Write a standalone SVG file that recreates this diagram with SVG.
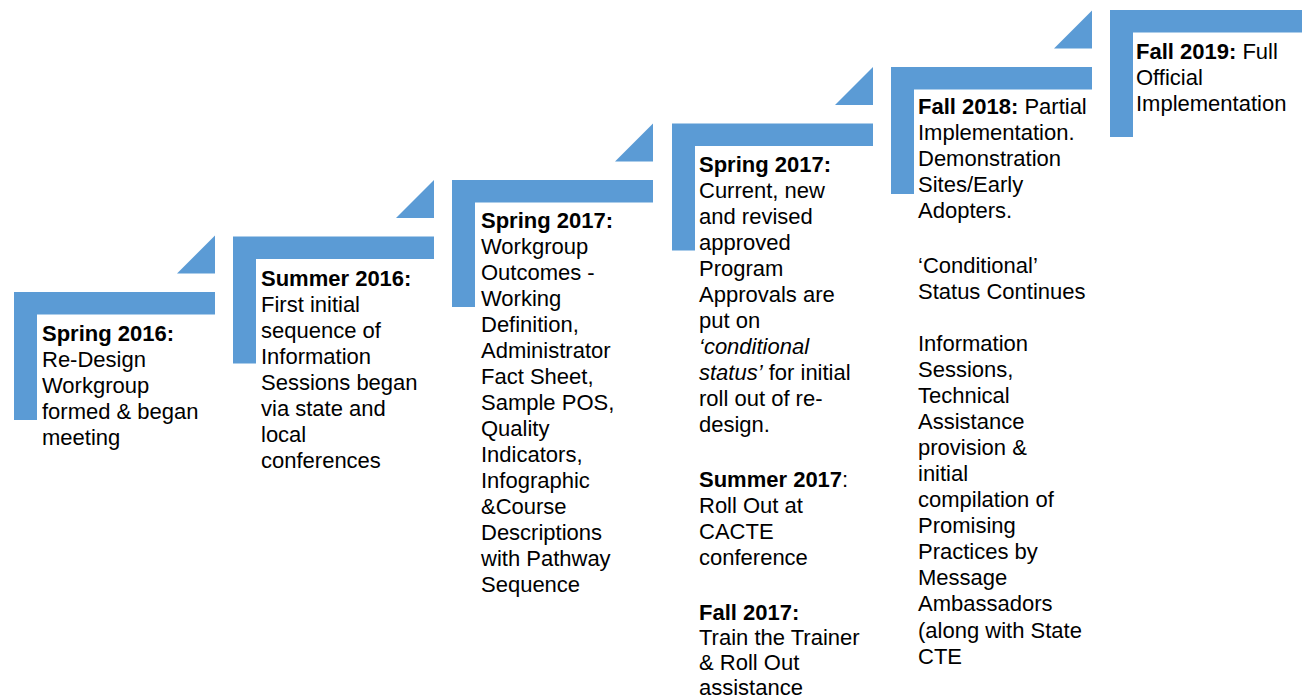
<svg xmlns="http://www.w3.org/2000/svg" width="1302" height="699" viewBox="0 0 1302 699">
<style>
.s{fill:#5B9BD5}
text{font-family:"Liberation Sans",Arial,sans-serif;font-size:22px;fill:#000}
.b{font-weight:bold}
.i{font-style:italic}
</style>
<rect width="1302" height="699" fill="#fff"/>
<g id="connectors">
<polygon class="s" points="215,235.5 215,273.5 177,273.5"/>
<polygon class="s" points="434,180 434,218 396,218"/>
<polygon class="s" points="653,123.5 653,161.5 615,161.5"/>
<polygon class="s" points="873,67 873,105 835,105"/>
<polygon class="s" points="1092,10.5 1092,48.5 1054,48.5"/>
</g>
<g id="step1">
<path class="s" d="M14,292H215V314.5H37V420H14Z"/>
<text><tspan x="42" y="341" class="b">Spring 2016:</tspan><tspan x="42" y="367">Re-Design</tspan><tspan x="42" y="393">Workgroup</tspan><tspan x="42" y="419">formed &amp; began</tspan><tspan x="42" y="445">meeting</tspan></text>
</g>
<g id="step2">
<path class="s" d="M233,236.5H434V259H256V363.5H233Z"/>
<text><tspan x="261" y="286" class="b">Summer 2016:</tspan><tspan x="261" y="312">First initial</tspan><tspan x="261" y="338">sequence of</tspan><tspan x="261" y="364">Information</tspan><tspan x="261" y="390">Sessions began</tspan><tspan x="261" y="416">via state and</tspan><tspan x="261" y="442">local</tspan><tspan x="261" y="468">conferences</tspan></text>
</g>
<g id="step3">
<path class="s" d="M452,180H653V202.5H475V307H452Z"/>
<text><tspan x="481" y="228" class="b">Spring 2017:</tspan><tspan x="481" y="254">Workgroup</tspan><tspan x="481" y="280">Outcomes -</tspan><tspan x="481" y="306">Working</tspan><tspan x="481" y="332">Definition,</tspan><tspan x="481" y="358">Administrator</tspan><tspan x="481" y="384">Fact Sheet,</tspan><tspan x="481" y="410">Sample POS,</tspan><tspan x="481" y="436">Quality</tspan><tspan x="481" y="462">Indicators,</tspan><tspan x="481" y="488">Infographic</tspan><tspan x="481" y="514">&amp;Course</tspan><tspan x="481" y="540">Descriptions</tspan><tspan x="481" y="566">with Pathway</tspan><tspan x="481" y="592">Sequence</tspan></text>
</g>
<g id="step4">
<path class="s" d="M672,123.5H873V146H695V250.5H672Z"/>
<text><tspan x="699" y="172" class="b">Spring 2017:</tspan><tspan x="699" y="198">Current, new</tspan><tspan x="699" y="224">and revised</tspan><tspan x="699" y="250">approved</tspan><tspan x="699" y="276">Program</tspan><tspan x="699" y="302">Approvals are</tspan><tspan x="699" y="328">put on</tspan><tspan x="699" y="354" class="i">‘conditional</tspan><tspan x="699" y="380" class="i">status’</tspan><tspan> for initial</tspan><tspan x="699" y="406">roll out of re-</tspan><tspan x="699" y="432">design.</tspan><tspan x="699" y="487" class="b">Summer 2017</tspan><tspan>:</tspan><tspan x="699" y="513">Roll Out at</tspan><tspan x="699" y="539">CACTE</tspan><tspan x="699" y="565">conference</tspan><tspan x="699" y="620" class="b">Fall 2017:</tspan><tspan x="699" y="645">Train the Trainer</tspan><tspan x="699" y="670">&amp; Roll Out</tspan><tspan x="699" y="695">assistance</tspan></text>
</g>
<g id="step5">
<path class="s" d="M891,67H1092V89.5H914V194H891Z"/>
<text><tspan x="918" y="114" class="b">Fall 2018:</tspan><tspan> Partial</tspan><tspan x="918" y="140">Implementation.</tspan><tspan x="918" y="166">Demonstration</tspan><tspan x="918" y="192">Sites/Early</tspan><tspan x="918" y="218">Adopters.</tspan><tspan x="918" y="273">‘Conditional’</tspan><tspan x="918" y="299">Status Continues</tspan><tspan x="918" y="351">Information</tspan><tspan x="918" y="377">Sessions,</tspan><tspan x="918" y="403">Technical</tspan><tspan x="918" y="429">Assistance</tspan><tspan x="918" y="455">provision &amp;</tspan><tspan x="918" y="481">initial</tspan><tspan x="918" y="507">compilation of</tspan><tspan x="918" y="533">Promising</tspan><tspan x="918" y="559">Practices by</tspan><tspan x="918" y="585">Message</tspan><tspan x="918" y="611">Ambassadors</tspan><tspan x="918" y="638">(along with State</tspan><tspan x="918" y="664">CTE</tspan></text>
</g>
<g id="step6">
<path class="s" d="M1110,10H1311V32.5H1133V137H1110Z"/>
<text><tspan x="1136" y="59" class="b">Fall 2019:</tspan><tspan> Full</tspan><tspan x="1136" y="85">Official</tspan><tspan x="1136" y="111">Implementation</tspan></text>
</g>
</svg>
